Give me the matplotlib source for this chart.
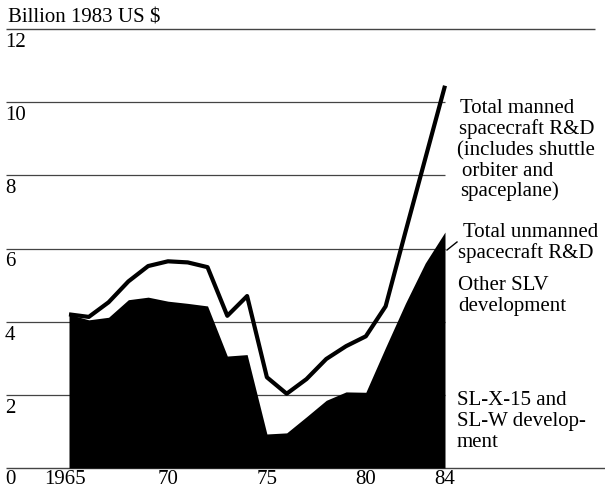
import matplotlib
matplotlib.use("Agg")
import matplotlib.pyplot as plt
from matplotlib.lines import Line2D

# ---- data ----
years = list(range(1965, 1985))
unmanned_total = [4.2, 4.05, 4.12, 4.6, 4.67, 4.56, 4.5, 4.43, 3.06, 3.1,
                  0.93, 0.96, 1.4, 1.85, 2.08, 2.07, 3.3, 4.5, 5.6, 6.45]
manned_total = [4.2, 4.13, 4.53, 5.1, 5.52, 5.65, 5.62, 5.49, 4.16, 4.7,
                2.48, 2.03, 2.43, 2.98, 3.33, 3.6, 4.42, 6.45, 8.45, 10.45]
y_ticks = [0, 2, 4, 6, 8, 10, 12]
y_tick_labels = ["0", "2", "4", "6", "8", "10", "12"]
x_tick_pos = [1964.8, 1970, 1975, 1980, 1984]
x_tick_labels = ["1965", "70", "75", "80", "84"]
y_title = "Billion 1983 US $"

W, H = 605, 489
FONT = "Liberation Serif"
FS = 15

fig = plt.figure(figsize=(W / 100, H / 100), dpi=100)
ax = fig.add_axes([0, 0, 1, 1])
ax.axis("off")

# pixel mapping: 1965 -> px 69, 1984 -> px 445; y 0 -> px 469, 12 -> px 30
pxx = (445 - 69) / 19.0
pxy = (469 - 30) / 12.0
x0 = 1965 - 69 / pxx
x1 = x0 + W / pxx
ytop = 12 + 30 / pxy
ybot = -(H - 469) / pxy
ax.set_xlim(x0, x1)
ax.set_ylim(ybot, ytop)

def X(px):
    return x0 + px / pxx

gcol = "#444444"
# gridlines
ax.hlines([2, 4, 6, 8, 10], X(6), 1984, color=gcol, lw=0.9, zorder=1)
ax.hlines([12], X(6), X(595), color=gcol, lw=1.0, zorder=1)
ax.hlines([0], X(6), X(605), color=gcol, lw=1.0, zorder=1)

# black area and thick line
ax.fill_between(years, 0, unmanned_total, color="black", lw=0, zorder=2)
ax.plot(years, manned_total, color="black", lw=3.0, zorder=3,
        solid_joinstyle="round", solid_capstyle="butt")

def ftext(px, py, s, **kw):
    fig.text(px / W, 1 - py / H, s, fontsize=FS, family=FONT,
             ha=kw.pop("ha", "left"), va="baseline", color="black", **kw)

# y tick labels (below their lines)
for v, lab in zip(y_ticks, y_tick_labels):
    py = min(469 - v * pxy + 17, 484)
    ftext(5, py, lab)

# x tick labels
for xv, lab in zip(x_tick_pos, x_tick_labels):
    ax.text(xv, ybot + (H - 484) / pxy, lab, fontsize=FS, family=FONT,
            ha="center", va="baseline")

ftext(8, 23, y_title)

# right-hand annotations
for px, py, s in [
    (460, 113, "Total manned"),
    (459, 134, "spacecraft R&D"),
    (457, 155, "(includes shuttle"),
    (462, 176, "orbiter and"),
    (460, 196, "spaceplane)"),
    (463, 237, "Total unmanned"),
    (458, 258, "spacecraft R&D"),
    (458, 290, "Other SLV"),
    (458, 311, "development"),
    (457, 405, "SL-X-15 and"),
    (457, 426, "SL-W develop-"),
    (457, 447, "ment"),
]:
    ftext(px, py, s)

# leader line for unmanned label
fig.add_artist(Line2D([447 / W, 457 / W], [1 - 251 / H, 1 - 243 / H],
                      color="black", lw=1.0))

fig.savefig("out.png", dpi=100, facecolor="white")
